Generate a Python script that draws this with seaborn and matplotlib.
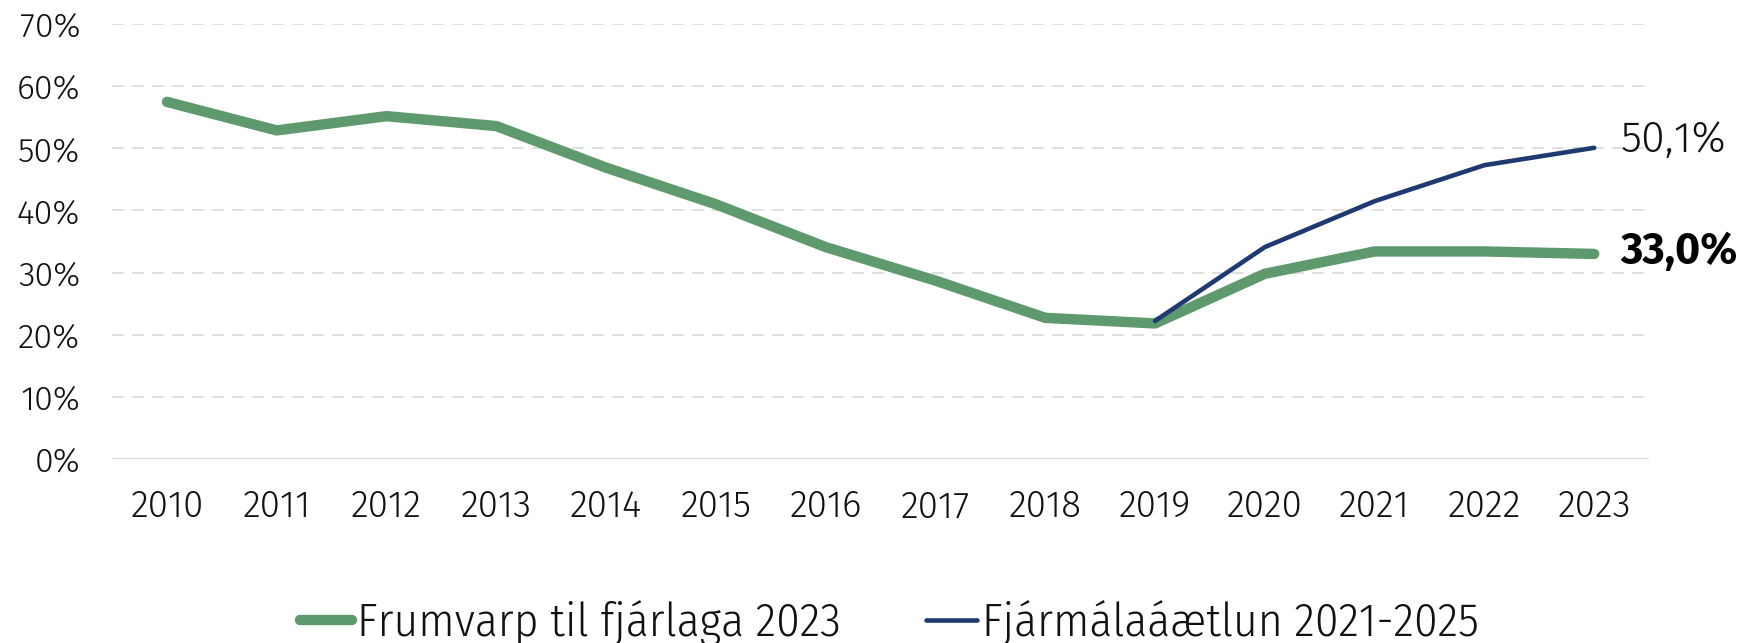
import matplotlib
matplotlib.use("Agg")
import matplotlib.pyplot as plt
import seaborn as sns
import pandas as pd

years = list(range(2010, 2024))
frumvarp = [57.5, 52.9, 55.2, 53.6, 46.9, 41.0, 34.1, 28.7, 22.7, 21.8, 29.8, 33.4, 33.4, 33.0]
fjarmal_years = [2019, 2020, 2021, 2022, 2023]
fjarmal = [22.2, 34.1, 41.5, 47.3, 50.1]
y_ticks = [0, 10, 20, 30, 40, 50, 60, 70]
name_a = "Frumvarp til fjárlaga 2023"
name_b = "Fjármálaáætlun 2021-2025"
label_a = "33,0%"
label_b = "50,1%"

sns.set_theme(style="white")
plt.rcParams['font.family'] = ['Fira Sans', 'DejaVu Sans']

df = pd.concat([
    pd.DataFrame({"year": years, "value": frumvarp, "series": name_a}),
    pd.DataFrame({"year": fjarmal_years, "value": fjarmal, "series": name_b}),
])

green = "#5E9A6E"
blue = "#1F3A70"
txt = "#111111"

fig = plt.figure(figsize=(17.51, 6.43), dpi=100)
ax = fig.add_axes([0.064, 0.2866, 0.8778, 0.6756])

sns.lineplot(data=df[df.series == name_a], x="year", y="value", color=green,
             linewidth=7.5, ax=ax, solid_capstyle="round", label=name_a, clip_on=False)
sns.lineplot(data=df[df.series == name_b], x="year", y="value", color=blue,
             linewidth=3.3, ax=ax, solid_capstyle="round", label=name_b, clip_on=False)

ax.set_xlim(years[0] - 0.5, years[-1] + 0.5)
ax.set_ylim(0, 70)
ax.set_xticks(years)
ax.set_xticklabels([str(y) for y in years], fontsize=26.5, fontweight=300, color=txt)
ax.set_yticks(y_ticks)
ax.set_yticklabels([f"{v}%" for v in y_ticks], fontsize=24.5, fontweight=300, color=txt)
ax.tick_params(axis="x", length=0, pad=22)
ax.tick_params(axis="y", length=0, pad=23)
ax.set_xlabel("")
ax.set_ylabel("")
for s in ax.spines.values():
    s.set_visible(False)
for v in y_ticks[1:]:
    ax.axhline(v, color="#D9D9D9", linewidth=1.2, linestyle=(0, (7, 5)), zorder=0)
ax.axhline(0, color="#D9D9D9", linewidth=1.6, zorder=0)

ax.annotate(label_b, xy=(years[-1], fjarmal[-1]), xytext=(26, 8), textcoords="offset pixels",
            ha="left", va="center", fontsize=31, fontweight=300, color=txt)
ax.annotate(label_a, xy=(years[-1], frumvarp[-1]), xytext=(26, 2), textcoords="offset pixels",
            ha="left", va="center", fontsize=31, fontweight="bold", color="#000000")

leg = ax.legend(loc="center", ncol=2, frameon=False, handlelength=1.1, handletextpad=0.1,
                columnspacing=1.8,
                prop={"family": "Fira Sans Condensed", "size": 34, "weight": 300})
leg.set_bbox_to_anchor((0.508, 0.031), transform=fig.transFigure)
for t in leg.get_texts():
    t.set_color(txt)
for h in leg.get_lines():
    h.set_solid_capstyle("round")

fig.savefig("out.png", dpi=100)
